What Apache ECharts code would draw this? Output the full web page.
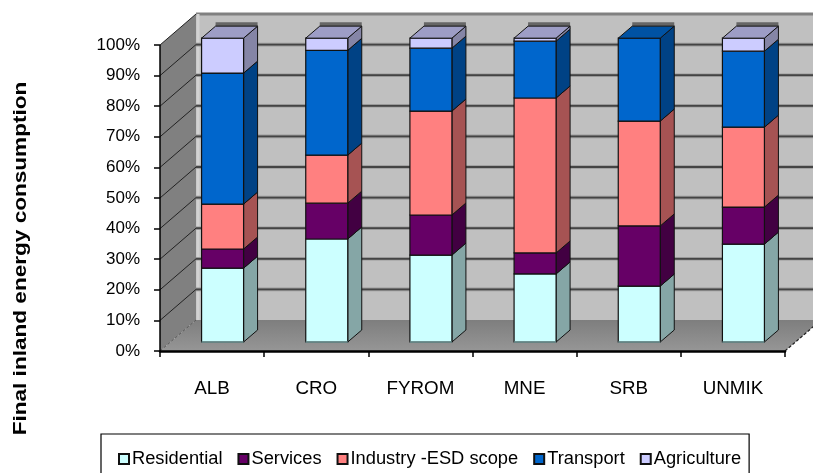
<!DOCTYPE html>
<html><head><meta charset="utf-8">
<style>html,body{margin:0;padding:0;background:#fff}#c{width:813px;height:473px}</style>
<script src="https://cdn.jsdelivr.net/npm/echarts@6/dist/echarts.min.js"></script>
</head><body><div id="c"></div>
<script>
var categories = ['ALB','CRO','FYROM','MNE','SRB','UNMIK'];
var residential = [24.3,33.9,28.6,22.4,18.4,32.2];
var services    = [6.3,11.8,13.2,6.9,19.8,12.2];
var industry    = [14.8,15.8,34.2,51.0,34.5,26.3];
var transport   = [43.1,34.5,20.7,18.7,27.3,25.0];
var agriculture = [11.5,4.0,3.3,1.0,0,4.3];
var seriesNames = ['Residential','Services','Industry -ESD scope','Transport','Agriculture'];
var seriesValues = [residential,services,industry,transport,agriculture];
var colors = ['#CCFFFF','#660066','#FF8080','#0066CC','#CCCCFF'];
var sideColors = ['#85A6A6','#420042','#A65353','#004285','#8585A6'];
var topColors = ['#A3CCCC','#520052','#CC6666','#0052A3','#9D9DC6'];
var yTicks = [0,10,20,30,40,50,60,70,80,90,100];

var font = '"Liberation Sans", Arial, sans-serif';
var WALL_DX = 36, WALL_DY = -31, BAR_DX = 10.5, BAR_DY = -9, SIDE_DX = 14, SIDE_DY = -12, BAR_W = 42, K = 0.993;

function wallItem(params, api) {
  var cs = params.coordSys, kids = [];
  var L = cs.x, R = cs.x + cs.width;
  function y(v){ return api.coord([0, v])[1]; }
  var y0 = y(0), y1 = y(100);
  kids.push({type:'polygon',shape:{points:[[L+WALL_DX,y1+WALL_DY],[R+WALL_DX,y1+WALL_DY],[R+WALL_DX,y0+WALL_DY],[L+WALL_DX,y0+WALL_DY]]},style:{fill:'#C0C0C0'}});
  kids.push({type:'polygon',shape:{points:[[L,y1],[L+WALL_DX,y1+WALL_DY],[L+WALL_DX,y0+WALL_DY],[L,y0]]},style:{fill:'#808080'}});
  kids.push({type:'polygon',shape:{points:[[L,y0],[L+WALL_DX,y0+WALL_DY],[R+WALL_DX,y0+WALL_DY],[R,y0]]},style:{fill:new echarts.graphic.LinearGradient(0,0,0,1,[{offset:0,color:'#7E7E7E'},{offset:1,color:'#969696'}])}});
  kids.push({type:'line',shape:{x1:L+WALL_DX,y1:y1+WALL_DY,x2:R+WALL_DX,y2:y1+WALL_DY},style:{stroke:'#808080',lineWidth:3}});
  kids.push({type:'line',shape:{x1:L+WALL_DX+2,y1:y1+WALL_DY,x2:L+WALL_DX+2,y2:y0+WALL_DY},style:{stroke:'#D2D2D2',lineWidth:3}});
  yTicks.forEach(function(v){
    var t = y(v);
    if (v > 0 && v < 100) {
      kids.push({type:'line',shape:{x1:L+WALL_DX,y1:t+WALL_DY,x2:R+WALL_DX,y2:t+WALL_DY},style:{stroke:'#999',lineWidth:3.6}});
      kids.push({type:'line',shape:{x1:L+WALL_DX,y1:t+WALL_DY,x2:R+WALL_DX,y2:t+WALL_DY},style:{stroke:'#444',lineWidth:1.8}});
    }
    if (v > 0) kids.push({type:'line',shape:{x1:L,y1:t,x2:L+WALL_DX,y2:t+WALL_DY},style:{stroke:'#222',lineWidth:1}});
  });
  kids.push({type:'line',shape:{x1:L,y1:y0,x2:L+WALL_DX,y2:y0+WALL_DY},style:{stroke:'#555',lineWidth:1,lineDash:[3,2]}});
  kids.push({type:'line',shape:{x1:R,y1:y0,x2:R+WALL_DX,y2:y0+WALL_DY},style:{stroke:'#222',lineWidth:1.2,lineDash:[3,2]}});
  kids.push({type:'line',shape:{x1:L,y1:y1,x2:L,y2:y0},style:{stroke:'#000',lineWidth:1.5}});
  return {type:'group',children:kids};
}

function segItem(si) {
  return function(params, api) {
    var cat = api.value(0), lo = api.value(1), hi = api.value(2), isTop = api.value(3) === 1;
    var y00 = api.coord([cat, 0])[1];
    var pl = api.coord([cat, lo]), ph = api.coord([cat, hi]);
    var x = pl[0] + BAR_DX - BAR_W/2;
    var yb = y00 + (pl[1]-y00)*K + BAR_DY, yt = y00 + (ph[1]-y00)*K + BAR_DY;
    var stroke = '#111', kids = [];
    if (hi - lo <= 0) return {type:'group',children:[]};
    kids.push({type:'polygon',shape:{points:[[x+BAR_W,yb],[x+BAR_W+SIDE_DX,yb+SIDE_DY],[x+BAR_W+SIDE_DX,yt+SIDE_DY],[x+BAR_W,yt]]},style:{fill:sideColors[si],stroke:stroke,lineWidth:1}});
    kids.push({type:'rect',shape:{x:x,y:yt,width:BAR_W,height:yb-yt},style:{fill:colors[si],stroke:stroke,lineWidth:1.2}});
    if (si === 0) kids.push({type:'line',shape:{x1:x,y1:yb,x2:x+BAR_W,y2:yb},style:{stroke:'#6E9494',lineWidth:1.4}});
    if (isTop) {
      kids.push({type:'rect',shape:{x:x+SIDE_DX,y:yt+SIDE_DY-4,width:BAR_W,height:4},style:{fill:'#666'}});
      kids.push({type:'polygon',shape:{points:[[x,yt],[x+SIDE_DX,yt+SIDE_DY],[x+BAR_W+SIDE_DX,yt+SIDE_DY],[x+BAR_W,yt]]},style:{fill:topColors[si],stroke:stroke,lineWidth:1}});
    }
    return {type:'group',children:kids};
  };
}

var series = [{type:'custom',silent:true,z:1,renderItem:wallItem,data:[[0]],encode:{x:0}}];
seriesNames.forEach(function(name, si){
  var data = categories.map(function(c, i){
    var lo = 0;
    for (var k = 0; k < si; k++) lo += seriesValues[k][i];
    var hi = lo + seriesValues[si][i];
    var topIdx = seriesValues.length - 1;
    while (topIdx > 0 && seriesValues[topIdx][i] === 0) topIdx--;
    return [i, lo, hi, topIdx === si ? 1 : 0];
  });
  series.push({type:'custom',name:name,z:2+si,renderItem:segItem(si),itemStyle:{color:colors[si],borderColor:'#111',borderWidth:1},data:data,encode:{x:0,y:2}});
});

var chart = echarts.init(document.getElementById('c'), null, {renderer:'canvas'});
chart.setOption({
  animation:false,
  backgroundColor:'#fff',
  grid:{left:160,top:45,width:625,height:306},
  xAxis:{type:'category',data:categories,z:20,boundaryGap:true,
    axisLine:{lineStyle:{color:'#000',width:2.5}},
    axisTick:{show:true,alignWithLabel:false,length:6,lineStyle:{color:'#000',width:1.5}},
    axisLabel:{color:'#000',fontFamily:font,fontSize:18.8,margin:28},splitLine:{show:false}},
  yAxis:{type:'value',min:0,max:100,interval:10,z:20,
    axisLine:{show:false},
    axisTick:{show:true,length:6,lineStyle:{color:'#000',width:1.5}},
    axisLabel:{color:'#000',fontFamily:font,fontSize:17,margin:20,formatter:'{value}%'},splitLine:{show:false}},
  legend:{data:seriesNames,left:101,top:434,orient:'horizontal',icon:'rect',itemWidth:10,itemHeight:10,itemGap:15,
    borderColor:'#000',borderWidth:1.2,padding:[16,8,20,17],
    textStyle:{color:'#000',fontFamily:font,fontSize:18.3,padding:[0,0,0,-2]}},
  graphic:[{type:'text',x:21,y:258.5,rotation:Math.PI/2,scaleX:1.22,silent:true,
    style:{text:'Final inland energy consumption',fill:'#000',font:'bold 18.5px "Liberation Sans", Arial, sans-serif',align:'center',verticalAlign:'middle'}}],
  series:series
});
</script></body></html>
